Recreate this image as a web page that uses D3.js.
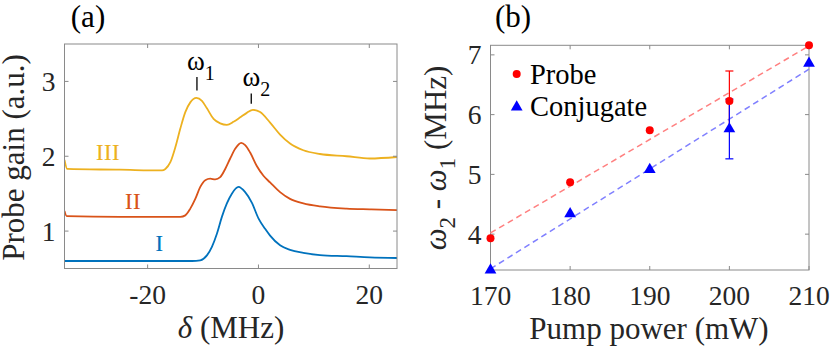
<!DOCTYPE html>
<html>
<head>
<meta charset="utf-8">
<script src="https://cdn.jsdelivr.net/npm/d3@7"></script>
<style>
  body { margin: 0; background: #fff; }
</style>
</head>
<body>
<div id="chart"></div>
<script>
// ---- panel (a): probe gain spectra ----
const deltaI = [-35, -20, -12, -10.5, -9.3, -8.4, -7.5, -6.6, -5.7, -4.8, -3.6, -2.4, -1.2, 0, 1.2, 2.1, 3.9, 5.7, 8.1, 11.1, 15.9, 20.1, 25];
const gainI  = [0.60, 0.60, 0.60, 0.61, 0.675, 0.79, 0.965, 1.19, 1.37, 1.50, 1.59, 1.52, 1.38, 1.17, 1.03, 0.94, 0.81, 0.75, 0.71, 0.68, 0.665, 0.65, 0.64];

const deltaII = [-35, -34.6, -25, -14.1, -13.2, -12.3, -11.4, -10.5, -9.6, -8.7, -7.8, -6.9, -6.0, -5.1, -4.2, -3.1, -2.4, -1.5, -0.3, 0.9, 2.1, 3.9, 5.7, 8.1, 11.1, 15.9, 20.1, 25];
const gainII  = [1.27, 1.20, 1.19, 1.19, 1.21, 1.30, 1.43, 1.59, 1.68, 1.70, 1.69, 1.72, 1.83, 1.97, 2.10, 2.18, 2.15, 2.05, 1.87, 1.74, 1.65, 1.52, 1.43, 1.37, 1.33, 1.30, 1.29, 1.28];

const deltaIII = [-35, -34.5, -25, -17.4, -16.8, -15.9, -15.0, -14.1, -13.2, -12.3, -11.2, -10.2, -9.3, -8.1, -6.9, -5.7, -4.5, -3.3, -2.1, -1.0, 0.3, 2.1, 3.9, 5.7, 8.1, 11.1, 15.9, 20.1, 25];
const gainIII  = [1.95, 1.83, 1.82, 1.81, 1.83, 1.92, 2.12, 2.37, 2.59, 2.72, 2.78, 2.74, 2.64, 2.50, 2.44, 2.42, 2.46, 2.52, 2.58, 2.62, 2.59, 2.45, 2.29, 2.17, 2.08, 2.03, 2.00, 1.97, 1.99];

const curveNames = ["I", "II", "III"];
const xTicksA = [-20, 0, 20];
const yTicksA = [1, 2, 3];

// ---- panel (b): peak splitting vs pump power ----
const pumpPower  = [170, 180, 190, 200, 210];
const probeSplit = [3.93, 4.87, 5.74, 6.23, 7.16];
const conjSplit  = [3.40, 4.34, 5.08, 5.76, 6.86];
const probeErr   = [0, 0, 0, 0.50, 0];
const conjErr    = [0, 0, 0, 0.50, 0];
const fitPower   = [170, 210];
const probeFit   = [4.02, 7.15];
const conjFit    = [3.42, 6.76];
const xTicksB = [170, 180, 190, 200, 210];
const yTicksB = [4, 5, 6, 7];

const width = 830, height = 351;
const svg = d3.select("#chart").append("svg")
    .attr("width", width)
    .attr("height", height)
    .style("display", "block")
    .attr("font-family", "'Liberation Serif', Tinos, 'Times New Roman', Times, 'DejaVu Serif', serif");

const axisColor = "#8a8a8a";
const textColor = "#262626";
const tickFont = 27.5;
const labelFont = 31;

// draws the box, inner ticks on all four sides and tick labels
function drawFrame(x, y, xTicks, yTicks, xLabelDy, yLabelDx) {
    const [x0, x1] = x.range();
    const [y0, y1] = y.range(); // y0 bottom, y1 top
    const g = svg.append("g");
    g.append("rect")
        .attr("x", x0).attr("y", y1)
        .attr("width", x1 - x0).attr("height", y0 - y1)
        .attr("fill", "none").attr("stroke", axisColor).attr("stroke-width", 1);
    xTicks.forEach(t => {
        g.append("line").attr("x1", x(t)).attr("x2", x(t)).attr("y1", y0).attr("y2", y0 - 4)
            .attr("stroke", axisColor);
        g.append("line").attr("x1", x(t)).attr("x2", x(t)).attr("y1", y1).attr("y2", y1 + 4)
            .attr("stroke", axisColor);
        g.append("text").attr("x", x(t)).attr("y", y0 + xLabelDy)
            .attr("text-anchor", "middle").attr("font-size", tickFont).attr("fill", textColor)
            .text(t < 0 ? "-" + Math.abs(t) : t);
    });
    yTicks.forEach(t => {
        g.append("line").attr("x1", x0).attr("x2", x0 + 4).attr("y1", y(t)).attr("y2", y(t))
            .attr("stroke", axisColor);
        g.append("line").attr("x1", x1).attr("x2", x1 - 4).attr("y1", y(t)).attr("y2", y(t))
            .attr("stroke", axisColor);
        g.append("text").attr("x", x0 - yLabelDx).attr("y", y(t)).attr("dy", "0.35em")
            .attr("text-anchor", "end").attr("font-size", tickFont).attr("fill", textColor)
            .text(t);
    });
}

// ================= panel (a) =================
const xA = d3.scaleLinear().domain([-35, 25]).range([64.5, 397]);
const yA = d3.scaleLinear().domain([0.5, 3.5]).range([268.5, 44]);

svg.append("clipPath").attr("id", "clipA").append("rect")
    .attr("x", 64.5).attr("y", 44).attr("width", 397 - 64.5).attr("height", 268.5 - 44);

const curveColors = ["#0072BD", "#D95319", "#EDB120"];
const spectra = [
    deltaI.map((d, i) => [d, gainI[i]]),
    deltaII.map((d, i) => [d, gainII[i]]),
    deltaIII.map((d, i) => [d, gainIII[i]])
];
const lineA = d3.line()
    .x(d => xA(d[0]))
    .y(d => yA(d[1]))
    .curve(d3.curveMonotoneX);

svg.append("g").attr("clip-path", "url(#clipA)")
    .selectAll("path")
    .data(spectra)
    .enter()
    .append("path")
    .attr("d", lineA)
    .attr("fill", "none")
    .attr("stroke", (d, i) => curveColors[i])
    .attr("stroke-width", 1.8);

drawFrame(xA, yA, xTicksA, yTicksA, 35, 9);

// curve labels
const curveLabelPos = [[-17.9, 0.73], [-22.7, 1.30], [-27.2, 1.945]];
svg.selectAll(".curve-label")
    .data(curveNames)
    .enter()
    .append("text")
    .attr("class", "curve-label")
    .attr("x", (d, i) => xA(curveLabelPos[i][0]))
    .attr("y", (d, i) => yA(curveLabelPos[i][1]))
    .attr("text-anchor", "middle")
    .attr("font-size", 24)
    .attr("fill", (d, i) => curveColors[i])
    .text(d => d);

// omega markers
const omegaMarks = [
    { sub: "1", x: -11.1, textX: -12.9, textY: 3.15, barTop: 3.06, barBot: 2.88 },
    { sub: "2", x: -1.3, textX: -2.9, textY: 2.94, barTop: 2.84, barBot: 2.70 }
];
omegaMarks.forEach(m => {
    const t = svg.append("text")
        .attr("x", xA(m.textX)).attr("y", yA(m.textY))
        .attr("font-size", 27).attr("fill", "#000");
    t.append("tspan").text("ω");
    t.append("tspan").attr("font-size", 20).attr("dy", 10).text(m.sub);
    svg.append("line")
        .attr("x1", xA(m.x)).attr("x2", xA(m.x))
        .attr("y1", yA(m.barTop)).attr("y2", yA(m.barBot))
        .attr("stroke", "#000").attr("stroke-width", 1.3);
});

svg.append("text")
    .attr("x", 231).attr("y", 338)
    .attr("text-anchor", "middle").attr("font-size", labelFont).attr("fill", textColor)
    .call(t => {
        t.append("tspan").attr("font-style", "italic").text("δ");
        t.append("tspan").text(" (MHz)");
    });

svg.append("text")
    .attr("transform", "translate(24,157.5) rotate(-90)")
    .attr("text-anchor", "middle").attr("font-size", labelFont).attr("fill", textColor)
    .text("Probe gain (a.u.)");

svg.append("text")
    .attr("x", 88).attr("y", 27)
    .attr("text-anchor", "middle").attr("font-size", 31).attr("fill", "#000")
    .text("(a)");

// ================= panel (b) =================
const xB = d3.scaleLinear().domain([170, 210]).range([490.5, 809]);
const yB = d3.scaleLinear().domain([3.4, 7.16]).range([270, 45.3]);

drawFrame(xB, yB, xTicksB, yTicksB, 35, 9);

// dashed fit lines
const fitLine = d3.line().x(d => xB(d[0])).y(d => yB(d[1]));
svg.append("path")
    .attr("d", fitLine(fitPower.map((p, i) => [p, probeFit[i]])))
    .attr("fill", "none").attr("stroke", "#ff8080").attr("stroke-width", 1.5)
    .attr("stroke-dasharray", "6,4");
svg.append("path")
    .attr("d", fitLine(fitPower.map((p, i) => [p, conjFit[i]])))
    .attr("fill", "none").attr("stroke", "#8080ff").attr("stroke-width", 1.5)
    .attr("stroke-dasharray", "6,4");

// error bars (probe first, conjugate drawn over it)
function errorBars(vals, errs, color) {
    pumpPower.forEach((p, i) => {
        if (!errs[i]) return;
        const g = svg.append("g").attr("stroke", color).attr("stroke-width", 1.2);
        g.append("line").attr("x1", xB(p)).attr("x2", xB(p))
            .attr("y1", yB(vals[i] - errs[i])).attr("y2", yB(vals[i] + errs[i]));
        [vals[i] - errs[i], vals[i] + errs[i]].forEach(v => {
            g.append("line").attr("x1", xB(p) - 4).attr("x2", xB(p) + 4)
                .attr("y1", yB(v)).attr("y2", yB(v));
        });
    });
}
errorBars(probeSplit, probeErr, "#ff0000");
errorBars(conjSplit, conjErr, "#0000ff");

const triangle = d3.symbol().type(d3.symbolTriangle).size(60);

svg.selectAll(".probe-pt")
    .data(pumpPower)
    .enter()
    .append("circle")
    .attr("class", "probe-pt")
    .attr("cx", d => xB(d))
    .attr("cy", (d, i) => yB(probeSplit[i]))
    .attr("r", 4)
    .attr("fill", "#ff0000");

svg.selectAll(".conj-pt")
    .data(pumpPower)
    .enter()
    .append("path")
    .attr("class", "conj-pt")
    .attr("d", triangle)
    .attr("transform", (d, i) => `translate(${xB(d)},${yB(conjSplit[i])})`)
    .attr("fill", "#0000ff");

// legend
svg.append("circle").attr("cx", 516.7).attr("cy", 74).attr("r", 4).attr("fill", "#ff0000");
svg.append("text").attr("x", 530).attr("y", 83.5)
    .attr("font-size", 28.5).attr("fill", "#000").text("Probe");
svg.append("path").attr("d", triangle)
    .attr("transform", "translate(516.7,107)").attr("fill", "#0000ff");
svg.append("text").attr("x", 530).attr("y", 115.5)
    .attr("font-size", 28.5).attr("fill", "#000").text("Conjugate");

svg.append("text")
    .attr("x", 649).attr("y", 339)
    .attr("text-anchor", "middle").attr("font-size", labelFont).attr("fill", textColor)
    .text("Pump power (mW)");

svg.append("text")
    .attr("transform", "translate(446,158) rotate(-90)")
    .attr("text-anchor", "middle").attr("font-size", labelFont).attr("fill", textColor)
    .call(t => {
        t.append("tspan").attr("font-style", "italic").text("ω");
        t.append("tspan").attr("font-size", 23).attr("dy", 9).text("2");
        t.append("tspan").attr("dy", -9).text(" - ");
        t.append("tspan").attr("font-style", "italic").text("ω");
        t.append("tspan").attr("font-size", 23).attr("dy", 9).text("1");
        t.append("tspan").attr("dy", -9).text(" (MHz)");
    });

svg.append("text")
    .attr("x", 513).attr("y", 27)
    .attr("text-anchor", "middle").attr("font-size", 31).attr("fill", "#000")
    .text("(b)");
</script>
</body>
</html>
